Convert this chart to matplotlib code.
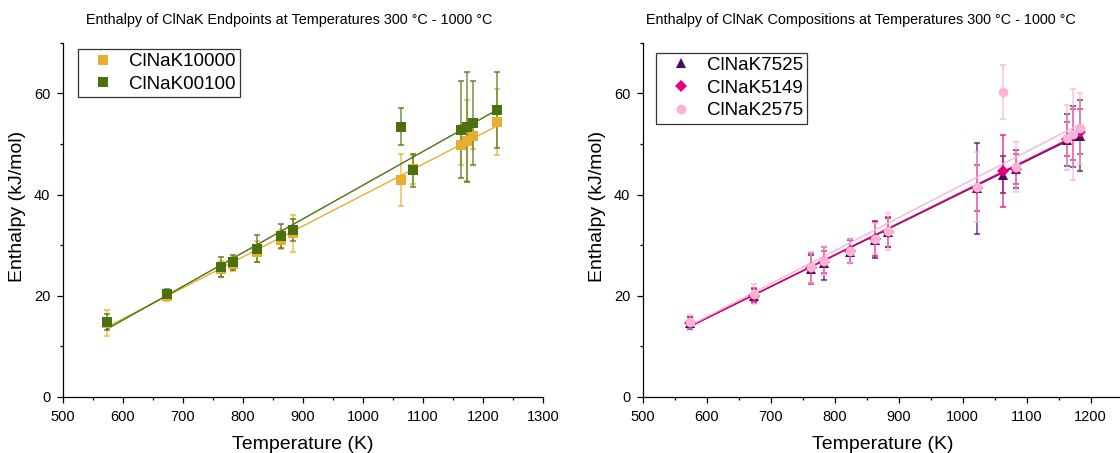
import numpy as np
import matplotlib
matplotlib.use("Agg")
import matplotlib.pyplot as plt
from matplotlib.ticker import MultipleLocator

plt.rcParams['font.family'] = ['Liberation Sans', 'DejaVu Sans']

# ---------------- data: left panel (endpoints) ----------------
T_end = [573, 673, 763, 783, 823, 863, 883, 1063, 1083, 1163, 1173, 1183, 1223]
H_10000 = [14.6, 20.0, 25.2, 26.2, 28.7, 31.1, 32.3, 42.9, 45.0, 49.8, 50.6, 51.6, 54.3]
E_10000 = [2.6, 1.1, 1.6, 1.4, 2.1, 1.8, 3.6, 5.2, 2.9, 4.0, 8.0, 2.6, 6.5]
H_00100 = [14.8, 20.3, 25.6, 26.6, 29.3, 31.8, 33.0, 53.4, 44.8, 52.8, 53.4, 54.2, 56.7]
E_00100 = [1.5, 1.0, 2.0, 1.5, 2.7, 2.3, 2.2, 3.7, 3.3, 9.6, 10.9, 8.3, 7.5]
fit_10000 = [0.0611, -21.21]   # slope, intercept
fit_00100 = [0.0666, -24.76]

# ---------------- data: right panel (compositions) ----------------
T_comp = [573, 673, 763, 783, 823, 863, 883, 1023, 1063, 1083, 1163, 1173, 1183]
H_7525 = [14.6, 20.0, 25.3, 26.4, 28.7, 31.1, 32.5, 41.2, 43.9, 45.0, 50.8, 51.5, 51.6]
E_7525 = [1.2, 1.3, 2.8, 3.2, 2.3, 3.7, 2.8, 9.0, 3.7, 3.7, 5.2, 6.0, 7.0]
H_5149 = [14.7, 20.0, 25.4, 26.6, 28.8, 31.2, 32.6, 41.3, 44.6, 45.1, 51.0, 51.8, 52.4]
E_5149 = [1.0, 1.5, 3.1, 2.2, 2.4, 3.3, 3.0, 4.5, 7.1, 3.0, 3.4, 5.0, 4.4]
H_2575 = [14.9, 20.4, 25.6, 26.8, 28.9, 31.3, 32.7, 41.5, 60.3, 45.4, 51.2, 51.9, 53.1]
E_2575 = [1.3, 2.0, 3.0, 2.8, 2.4, 3.0, 3.6, 6.9, 5.3, 5.0, 6.4, 9.0, 7.0]
fit_7525 = [0.0621, -21.68]
fit_5149 = [0.0625, -21.91]
fit_2575 = [0.0652, -23.26]

titles = ["Enthalpy of ClNaK Endpoints at Temperatures 300 °C - 1000 °C",
          "Enthalpy of ClNaK Compositions at Temperatures 300 °C - 1000 °C"]

C_YEL = "#E8AE2D"
C_GRN = "#4A700F"
C_PUR = "#4A0D5C"
C_MAG = "#E6007E"
C_PNK = "#F9B3D7"

W, H = 1120, 453
fig = plt.figure(figsize=(W / 100, H / 100), dpi=100)

def px_axes(x0, x1, ytop, ybot):
    return fig.add_axes([x0 / W, 1 - ybot / H, (x1 - x0) / W, (ybot - ytop) / H])

axL = px_axes(63, 543, 42.7, 396.9)
axR = px_axes(643, 1122.5, 42.7, 396.9)

def series(ax, T, Hv, E, fit, color, marker, label, ms=6.5):
    T = np.asarray(T, float)
    ax.errorbar(T, Hv, yerr=E, fmt='none', ecolor=color, elinewidth=1.3,
                capsize=2.5, capthick=1.5, alpha=0.65, zorder=2)
    tt = np.array([T.min(), T.max()])
    ax.plot(tt, fit[0] * tt + fit[1], color=color, lw=1.0, zorder=3)
    ax.plot(T, Hv, linestyle='none', marker=marker, ms=ms, color=color,
            markeredgewidth=0, label=label, zorder=4)

series(axL, T_end, H_10000, E_10000, fit_10000, C_YEL, 's', 'ClNaK10000')
series(axL, T_end, H_00100, E_00100, fit_00100, C_GRN, 's', 'ClNaK00100')

series(axR, T_comp, H_7525, E_7525, fit_7525, C_PUR, '^', 'ClNaK7525', ms=6.8)
series(axR, T_comp, H_5149, E_5149, fit_5149, C_MAG, 'D', 'ClNaK5149', ms=5.8)
series(axR, T_comp, H_2575, E_2575, fit_2575, C_PNK, 'o', 'ClNaK2575', ms=7.0)

legend_pos = {0: (78, 49), 1: (656, 52.7)}

for i, (ax, xmax) in enumerate(((axL, 1300), (axR, 1250))):
    ax.set_xlim(500, xmax)
    ax.set_ylim(0, 70)
    ax.xaxis.set_major_locator(MultipleLocator(100))
    ax.xaxis.set_minor_locator(MultipleLocator(50))
    ax.yaxis.set_major_locator(MultipleLocator(20))
    ax.yaxis.set_minor_locator(MultipleLocator(10))
    for s in ('top', 'right'):
        ax.spines[s].set_visible(False)
    for s in ('left', 'bottom'):
        ax.spines[s].set_linewidth(0.9)
    ax.tick_params(which='major', direction='out', length=4.2, width=0.9,
                   labelsize=10.5, pad=5)
    ax.tick_params(which='minor', direction='out', length=2.3, width=0.9)
    ax.set_xlabel("Temperature (K)", fontsize=14, labelpad=9)
    ax.set_ylabel("Enthalpy (kJ/mol)", fontsize=14)
    ax.yaxis.set_label_coords(-0.077, 0.538)
    lx, ly = legend_pos[i]
    leg = ax.legend(loc='upper left', bbox_to_anchor=(lx / W, 1 - ly / H),
                    bbox_transform=fig.transFigure, borderaxespad=0,
                    fontsize=13.5, frameon=True, fancybox=False,
                    edgecolor='black', handlelength=2.2, handletextpad=0.3,
                    borderpad=0.22, labelspacing=0.3, markerscale=1.0)
    leg.get_frame().set_linewidth(0.9)

fig.text(289 / W, 1 - 20 / H, titles[0], ha='center', va='center', fontsize=10.4)
fig.text(860.5 / W, 1 - 20 / H, titles[1], ha='center', va='center', fontsize=10.4)

fig.savefig("out.png", dpi=100)
